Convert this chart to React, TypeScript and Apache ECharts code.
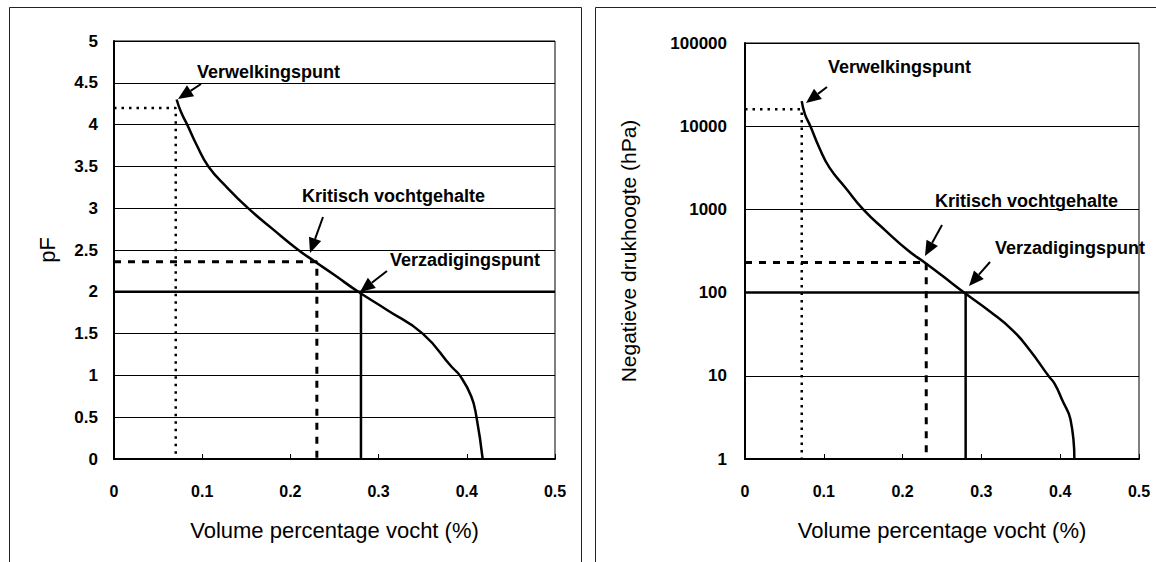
import React, { useEffect, useRef } from "react";
import * as echarts from "echarts";

// ---- data ----
const xTicks = ["0", "0.1", "0.2", "0.3", "0.4", "0.5"];

// left chart: volume fraction vs pF
const curveTheta = [0.071, 0.076, 0.083, 0.094, 0.107, 0.128, 0.152, 0.18, 0.209, 0.228, 0.25, 0.277, 0.31, 0.35, 0.383, 0.392, 0.405, 0.411, 0.418];
const curvePF = [4.3, 4.15, 4.0, 3.75, 3.5, 3.25, 3.0, 2.75, 2.5, 2.36, 2.2, 2.0, 1.78, 1.5, 1.1, 1.0, 0.75, 0.5, 0.0];

// right chart: volume fraction vs negative pressure head (hPa)
const curveThetaR = [0.072, 0.076, 0.083, 0.094, 0.107, 0.128, 0.15, 0.178, 0.207, 0.228, 0.25, 0.278, 0.31, 0.34, 0.362, 0.385, 0.393, 0.403, 0.413, 0.418];
const curveHpa = [20000, 14000, 10000, 5600, 3200, 1800, 1000, 560, 320, 230, 160, 100, 60, 35, 20, 10, 8, 5, 3, 1];

// characteristic points [theta, value]
const wiltingPF = [0.07, 4.2];
const criticalPF = [0.23, 2.36];
const saturationPF = [0.28, 2.0];
const wiltingHpa = [0.072, 16000];
const criticalHpa = [0.23, 230];
const saturationHpa = [0.28, 100];

const labels = ["Verwelkingspunt", "Kritisch vochtgehalte", "Verzadigingspunt"];

const FONT = "'Liberation Sans', Arial, Helvetica, sans-serif";

function arrow(x1: number, y1: number, x2: number, y2: number, head = 15, w = 13) {
  const dx = x2 - x1, dy = y2 - y1;
  const L = Math.hypot(dx, dy);
  const ux = dx / L, uy = dy / L;
  const bx = x2 - ux * head, by = y2 - uy * head;
  const px = -uy, py = ux;
  return [
    { type: "line", shape: { x1, y1, x2: bx, y2: by }, style: { stroke: "#000", lineWidth: 2 }, z: 100 },
    {
      type: "polygon",
      shape: { points: [[x2, y2], [bx + (px * w) / 2, by + (py * w) / 2], [bx - (px * w) / 2, by - (py * w) / 2]] },
      style: { fill: "#000" },
      z: 100,
    },
  ];
}

function note(text: string, x: number, y: number) {
  return {
    type: "text",
    x,
    y,
    z: 100,
    style: { text, fill: "#000", font: `bold 18px ${FONT}`, verticalAlign: "middle", align: "left" },
  };
}

export default function App() {
  const ref = useRef<HTMLDivElement>(null);
  useEffect(() => {
    document.body.style.margin = "0";
    const chart = echarts.init(ref.current!, undefined, { renderer: "svg" });

    const xAxisBase = (gridIndex: number) => ({
      type: "value",
      gridIndex,
      min: 0,
      max: 0.5,
      interval: 0.1,
      name: "Volume percentage vocht (%)",
      nameLocation: "middle",
      nameGap: 60,
      nameTextStyle: { fontFamily: FONT, fontSize: 22, color: "#000" },
      axisLine: { show: true, lineStyle: { color: "#000", width: 2 } },
      axisTick: { show: true, inside: true, length: 5, lineStyle: { color: "#000", width: 1 } },
      axisLabel: {
        margin: 24,
        fontFamily: FONT,
        fontSize: 16,
        fontWeight: "bold",
        color: "#000",
        formatter: (v: number) => xTicks[Math.round(v * 10)] ?? String(v),
      },
      splitLine: { show: false },
    });

    const line = (xi: number, data: number[][], width: number, type: any) => ({
      type: "line",
      xAxisIndex: xi,
      yAxisIndex: xi,
      data,
      symbol: "none",
      silent: true,
      z: 5,
      lineStyle: { color: "#000", width, type },
    });

    const option: any = {
      animation: false,
      backgroundColor: "#fff",
      grid: [
        { left: 114, top: 41, width: 441, height: 418, show: true, borderColor: "#000", borderWidth: 1 },
        { left: 745, top: 43, width: 394, height: 416, show: true, borderColor: "#000", borderWidth: 1 },
      ],
      xAxis: [xAxisBase(0), xAxisBase(1)],
      yAxis: [
        {
          type: "value",
          gridIndex: 0,
          min: 0,
          max: 5,
          interval: 0.5,
          name: "pF",
          nameLocation: "middle",
          nameGap: 56,
          nameTextStyle: { fontFamily: FONT, fontSize: 22, color: "#000" },
          axisLine: { show: true, lineStyle: { color: "#000", width: 2 } },
          axisTick: { show: false },
          axisLabel: { margin: 16, fontFamily: FONT, fontSize: 17, fontWeight: "bold", color: "#000" },
          splitLine: { show: true, lineStyle: { color: "#000", width: 1 } },
        },
        {
          type: "log",
          logBase: 10,
          gridIndex: 1,
          min: 1,
          max: 100000,
          name: "Negatieve drukhoogte (hPa)",
          nameLocation: "middle",
          nameGap: 106,
          nameTextStyle: { fontFamily: FONT, fontSize: 21, color: "#000" },
          axisLine: { show: true, lineStyle: { color: "#000", width: 2 } },
          axisTick: { show: false },
          minorTick: { show: false },
          axisLabel: {
            margin: 18,
            fontFamily: FONT,
            fontSize: 17,
            fontWeight: "bold",
            color: "#000",
            formatter: (v: number) => String(Math.round(v)),
          },
          splitLine: { show: true, lineStyle: { color: "#000", width: 1 } },
        },
      ],
      series: [
        // left chart
        line(0, [[0, wiltingPF[1]], [wiltingPF[0], wiltingPF[1]], [wiltingPF[0], 0]], 2.5, [2.5, 5]),
        line(0, [[0, criticalPF[1]], [criticalPF[0], criticalPF[1]], [criticalPF[0], 0]], 3, [7, 7]),
        line(0, [[0, saturationPF[1]], [0.5, saturationPF[1]]], 2.5, "solid"),
        line(0, [[saturationPF[0], saturationPF[1]], [saturationPF[0], 0]], 2.5, "solid"),
        {
          ...line(0, curveTheta.map((t, i) => [t, curvePF[i]]), 2.5, "solid"),
          smooth: 0.5,
          z: 6,
        },
        // right chart
        line(1, [[0, wiltingHpa[1]], [wiltingHpa[0], wiltingHpa[1]], [wiltingHpa[0], 1]], 2.5, [2.5, 5]),
        line(1, [[0, criticalHpa[1]], [criticalHpa[0], criticalHpa[1]], [criticalHpa[0], 1]], 3, [7, 7]),
        line(1, [[0, saturationHpa[1]], [0.5, saturationHpa[1]]], 2.5, "solid"),
        line(1, [[saturationHpa[0], saturationHpa[1]], [saturationHpa[0], 1]], 2.5, "solid"),
        {
          ...line(1, curveThetaR.map((t, i) => [t, curveHpa[i]]), 2.5, "solid"),
          smooth: 0.5,
          z: 6,
        },
      ],
      graphic: [
        { type: "rect", shape: { x: 9.5, y: 7.5, width: 572, height: 600 }, style: { fill: "none", stroke: "#222", lineWidth: 1 } },
        { type: "rect", shape: { x: 595.5, y: 7.5, width: 600, height: 600 }, style: { fill: "none", stroke: "#222", lineWidth: 1 } },
        note(labels[0], 197, 72),
        note(labels[1], 302, 196),
        note(labels[2], 390, 260),
        note(labels[0], 828, 67),
        note(labels[1], 935, 201),
        note(labels[2], 995, 248),
        ...arrow(201, 84, 178, 99),
        ...arrow(323, 217, 310, 253),
        ...arrow(387, 271, 360, 292),
        ...arrow(827, 87, 806, 103),
        ...arrow(942, 225, 925, 256),
        ...arrow(990, 262, 969, 286),
      ],
    };
    chart.setOption(option);
    return () => chart.dispose();
  }, []);
  return <div ref={ref} style={{ width: 1156, height: 562 }} />;
}
